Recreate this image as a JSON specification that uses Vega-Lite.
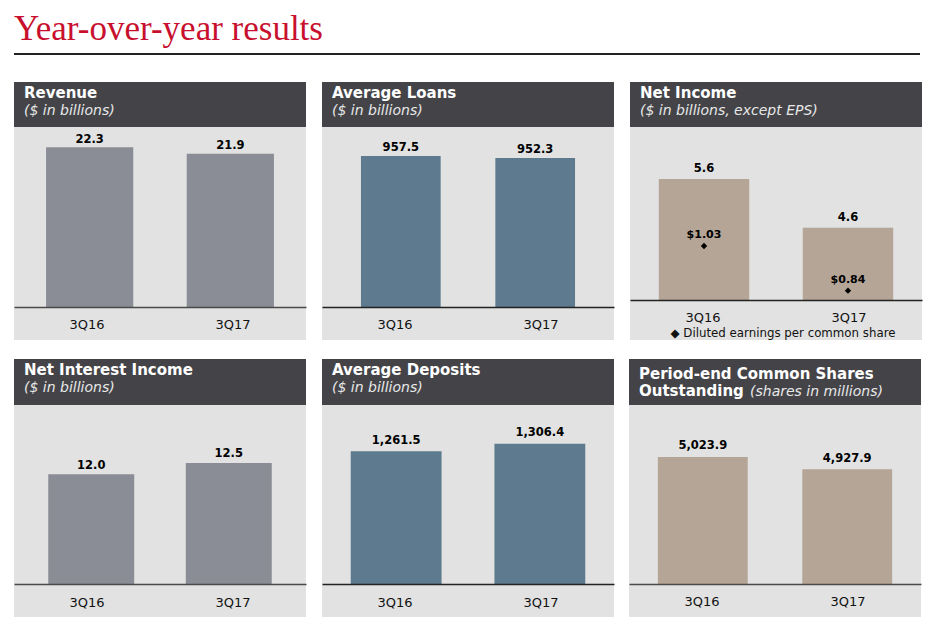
{
  "$schema": "https://vega.github.io/schema/vega-lite/v6.json",
  "padding": {"left": 13, "top": 11, "right": 5, "bottom": 5},
  "background": "white",
  "title": {"text": "Year-over-year results", "font": "Liberation Serif", "fontSize": 35, "fontWeight": "normal", "color": "#c8102e", "offset": 6, "dx": 0, "anchor": "start", "frame": "group"},
  "data": {"values": [
    {"m": "rev", "q": "3Q16", "v": 22.3},
    {"m": "rev", "q": "3Q17", "v": 21.9},
    {"m": "loans", "q": "3Q16", "v": 957.5},
    {"m": "loans", "q": "3Q17", "v": 952.3},
    {"m": "ni", "q": "3Q16", "v": 5.6},
    {"m": "ni", "q": "3Q17", "v": 4.6},
    {"m": "eps", "q": "3Q16", "v": 1.03},
    {"m": "eps", "q": "3Q17", "v": 0.84},
    {"m": "nii", "q": "3Q16", "v": 12.0},
    {"m": "nii", "q": "3Q17", "v": 12.5},
    {"m": "dep", "q": "3Q16", "v": 1261.5},
    {"m": "dep", "q": "3Q17", "v": 1306.4},
    {"m": "shares", "q": "3Q16", "v": 5023.9},
    {"m": "shares", "q": "3Q17", "v": 4927.9}
  ]},
  "spacing": 26,
  "vconcat": [
    {"width": 906, "height": 2, "view": {"fill": "#222222", "stroke": null}, "mark": {"type": "rule", "opacity": 0}, "encoding": {}},
    {"spacing": 18, "vconcat": [
      {"spacing": 15, "hconcat": [
        {"spacing": 0, "bounds": "flush", "vconcat": [
          {"width": 292, "height": 45, "view": {"fill": "#444448", "stroke": null}, "title": {"text": "Revenue", "subtitle": "($ in billions)"}, "mark": {"type": "rule", "opacity": 0}, "encoding": {}},
          {"width": 292, "height": 180, "view": {"fill": "#e1e2e1", "stroke": null},
           "transform": [{"filter": "datum.m === 'rev'"}],
           "encoding": {"x": {"field": "q", "type": "nominal", "axis": null, "scale": {"paddingInner": 0.38, "paddingOuter": 0.228}}},
           "layer": [
             {"mark": {"type": "bar", "color": "#8a8d95"}, "encoding": {"y": {"field": "v", "type": "quantitative", "axis": null, "scale": {"domain": [12.32, 23.57], "zero": false, "nice": false}}, "y2": {"datum": 12.32}}},
             {"mark": {"type": "text", "baseline": "middle", "dy": -7.5, "fontWeight": "bold", "fontSize": 11.5, "color": "#000000"}, "encoding": {"y": {"field": "v", "type": "quantitative"}, "text": {"field": "v", "type": "quantitative", "format": ",.1f"}}}
           ]},
          {"width": 292, "height": 33, "view": {"fill": "#e1e2e1", "stroke": null},
           "transform": [{"filter": "datum.m === 'rev'"}],
           "mark": {"type": "text", "fontSize": 13, "dy": 1, "color": "#111111"},
           "encoding": {"x": {"field": "q", "type": "nominal", "axis": {"orient": "top", "labels": false, "ticks": false, "grid": false, "domain": true, "domainColor": "#4a4a4a", "domainWidth": 1.5, "offset": 0, "title": null}, "scale": {"paddingInner": 0.38, "paddingOuter": 0.228}}, "text": {"field": "q"}}}
        ]},
        {"spacing": 0, "bounds": "flush", "vconcat": [
          {"width": 292, "height": 45, "view": {"fill": "#444448", "stroke": null}, "title": {"text": "Average Loans", "subtitle": "($ in billions)"}, "mark": {"type": "rule", "opacity": 0}, "encoding": {}},
          {"width": 292, "height": 180, "view": {"fill": "#e1e2e1", "stroke": null},
           "transform": [{"filter": "datum.m === 'loans'"}],
           "encoding": {"x": {"field": "q", "type": "nominal", "axis": null, "scale": {"paddingInner": 0.407, "paddingOuter": 0.29}}},
           "layer": [
             {"mark": {"type": "bar", "color": "#5d7a8e"}, "encoding": {"y": {"field": "v", "type": "quantitative", "axis": null, "scale": {"domain": [564.9, 1032.9], "zero": false, "nice": false}}, "y2": {"datum": 564.9}}},
             {"mark": {"type": "text", "baseline": "middle", "dy": -8, "fontWeight": "bold", "fontSize": 11.5, "color": "#000000"}, "encoding": {"y": {"field": "v", "type": "quantitative"}, "text": {"field": "v", "type": "quantitative", "format": ",.1f"}}}
           ]},
          {"width": 292, "height": 33, "view": {"fill": "#e1e2e1", "stroke": null},
           "transform": [{"filter": "datum.m === 'loans'"}],
           "mark": {"type": "text", "fontSize": 13, "dy": 1, "color": "#111111"},
           "encoding": {"x": {"field": "q", "type": "nominal", "axis": {"orient": "top", "labels": false, "ticks": false, "grid": false, "domain": true, "domainColor": "#222222", "domainWidth": 1.5, "offset": 0, "title": null}, "scale": {"paddingInner": 0.407, "paddingOuter": 0.29}}, "text": {"field": "q"}}}
        ]},
        {"spacing": 0, "bounds": "flush", "vconcat": [
          {"width": 292, "height": 45, "view": {"fill": "#444448", "stroke": null}, "title": {"text": "Net Income", "subtitle": "($ in billions, except EPS)"}, "mark": {"type": "rule", "opacity": 0}, "encoding": {}},
          {"width": 292, "height": 173, "view": {"fill": "#e1e2e1", "stroke": null},
           "encoding": {"x": {"field": "q", "type": "nominal", "axis": null, "scale": {"paddingInner": 0.372, "paddingOuter": 0.2}}},
           "layer": [
             {"transform": [{"filter": "datum.m === 'ni'"}], "mark": {"type": "bar", "color": "#b4a596"}, "encoding": {"y": {"field": "v", "type": "quantitative", "axis": null, "scale": {"domain": [3.115, 6.667], "zero": false, "nice": false}}, "y2": {"datum": 3.115}}},
             {"transform": [{"filter": "datum.m === 'ni'"}], "mark": {"type": "text", "baseline": "middle", "dy": -10, "fontWeight": "bold", "fontSize": 11.5, "color": "#000000"}, "encoding": {"y": {"field": "v", "type": "quantitative", "axis": null, "scale": {"domain": [3.115, 6.667], "zero": false, "nice": false}}, "text": {"field": "v", "type": "quantitative", "format": ",.1f"}}},
             {"transform": [{"filter": "datum.m === 'eps'"}], "mark": {"type": "point", "shape": "diamond", "filled": true, "color": "#000000", "size": 40, "opacity": 1}, "encoding": {"y": {"field": "v", "type": "quantitative", "axis": null, "scale": {"domain": [0.8005, 1.5357], "zero": false, "nice": false}}}},
             {"transform": [{"filter": "datum.m === 'eps'"}], "mark": {"type": "text", "baseline": "middle", "dy": -11, "fontWeight": "bold", "fontSize": 11, "color": "#000000"}, "encoding": {"y": {"field": "v", "type": "quantitative", "axis": null, "scale": {"domain": [0.8005, 1.5357], "zero": false, "nice": false}}, "text": {"field": "v", "type": "quantitative", "format": "$.2f"}}}
           ],
           "resolve": {"scale": {"y": "independent"}}},
          {"width": 292, "height": 40, "view": {"fill": "#e1e2e1", "stroke": null},
           "layer": [
             {"transform": [{"filter": "datum.m === 'ni'"}], "mark": {"type": "text", "fontSize": 13, "dy": -2, "color": "#111111"},
              "encoding": {"x": {"field": "q", "type": "nominal", "axis": {"orient": "top", "labels": false, "ticks": false, "grid": false, "domain": true, "domainColor": "#222222", "domainWidth": 1.5, "offset": 0, "title": null}, "scale": {"paddingInner": 0.372, "paddingOuter": 0.2}}, "text": {"field": "q"}}},
             {"data": {"values": [{"note": "◆ Diluted earnings per common share"}]}, "mark": {"type": "text", "fontSize": 11.8, "dx": 7, "dy": 13, "color": "#111111"}, "encoding": {"text": {"field": "note"}}}
           ]}
        ]}
      ]},
      {"spacing": 15, "hconcat": [
        {"spacing": 0, "bounds": "flush", "vconcat": [
          {"width": 292, "height": 46, "view": {"fill": "#444448", "stroke": null}, "title": {"text": "Net Interest Income", "subtitle": "($ in billions)"}, "mark": {"type": "rule", "opacity": 0}, "encoding": {}},
          {"width": 292, "height": 179, "view": {"fill": "#e1e2e1", "stroke": null},
           "transform": [{"filter": "datum.m === 'nii'"}],
           "encoding": {"x": {"field": "q", "type": "nominal", "axis": null, "scale": {"paddingInner": 0.375, "paddingOuter": 0.249}}},
           "layer": [
             {"mark": {"type": "bar", "color": "#8a8d95"}, "encoding": {"y": {"field": "v", "type": "quantitative", "axis": null, "scale": {"domain": [7.146, 15.066], "zero": false, "nice": false}}, "y2": {"datum": 7.146}}},
             {"mark": {"type": "text", "baseline": "middle", "dy": -8.5, "fontWeight": "bold", "fontSize": 11.5, "color": "#000000"}, "encoding": {"y": {"field": "v", "type": "quantitative"}, "text": {"field": "v", "type": "quantitative", "format": ",.1f"}}}
           ]},
          {"width": 292, "height": 33, "view": {"fill": "#e1e2e1", "stroke": null},
           "transform": [{"filter": "datum.m === 'nii'"}],
           "mark": {"type": "text", "fontSize": 13, "dy": 2, "color": "#111111"},
           "encoding": {"x": {"field": "q", "type": "nominal", "axis": {"orient": "top", "labels": false, "ticks": false, "grid": false, "domain": true, "domainColor": "#4a4a4a", "domainWidth": 1.5, "offset": 0, "title": null}, "scale": {"paddingInner": 0.375, "paddingOuter": 0.249}}, "text": {"field": "q"}}}
        ]},
        {"spacing": 0, "bounds": "flush", "vconcat": [
          {"width": 292, "height": 46, "view": {"fill": "#444448", "stroke": null}, "title": {"text": "Average Deposits", "subtitle": "($ in billions)"}, "mark": {"type": "rule", "opacity": 0}, "encoding": {}},
          {"width": 292, "height": 179, "view": {"fill": "#e1e2e1", "stroke": null},
           "transform": [{"filter": "datum.m === 'dep'"}],
           "encoding": {"x": {"field": "q", "type": "nominal", "axis": null, "scale": {"paddingInner": 0.368, "paddingOuter": 0.2}}},
           "layer": [
             {"mark": {"type": "bar", "color": "#5d7a8e"}, "encoding": {"y": {"field": "v", "type": "quantitative", "axis": null, "scale": {"domain": [477.7, 1535], "zero": false, "nice": false}}, "y2": {"datum": 477.7}}},
             {"mark": {"type": "text", "baseline": "middle", "dy": -10.5, "fontWeight": "bold", "fontSize": 11.5, "color": "#000000"}, "encoding": {"y": {"field": "v", "type": "quantitative"}, "text": {"field": "v", "type": "quantitative", "format": ",.1f"}}}
           ]},
          {"width": 292, "height": 33, "view": {"fill": "#e1e2e1", "stroke": null},
           "transform": [{"filter": "datum.m === 'dep'"}],
           "mark": {"type": "text", "fontSize": 13, "dy": 2, "color": "#111111"},
           "encoding": {"x": {"field": "q", "type": "nominal", "axis": {"orient": "top", "labels": false, "ticks": false, "grid": false, "domain": true, "domainColor": "#222222", "domainWidth": 1.5, "offset": 0, "title": null}, "scale": {"paddingInner": 0.368, "paddingOuter": 0.2}}, "text": {"field": "q"}}}
        ]},
        {"spacing": 0, "bounds": "flush", "vconcat": [
          {"width": 292, "height": 46, "view": {"fill": "#444448", "stroke": null}, "title": {"text": ["Period-end Common Shares", "Outstanding"], "lineHeight": 17, "offset": -40},
           "data": {"values": [{"sub": "(shares in millions)"}]},
           "mark": {"type": "text", "align": "left", "baseline": "alphabetic", "dx": -25, "dy": 14, "font": "DejaVu Sans", "fontSize": 14, "fontStyle": "italic", "color": "#e8e8e8"},
           "encoding": {"text": {"field": "sub"}}},
          {"width": 292, "height": 179, "view": {"fill": "#e1e2e1", "stroke": null},
           "transform": [{"filter": "datum.m === 'shares'"}],
           "encoding": {"x": {"field": "q", "type": "nominal", "axis": null, "scale": {"paddingInner": 0.378, "paddingOuter": 0.2}}},
           "layer": [
             {"mark": {"type": "bar", "color": "#b4a596"}, "encoding": {"y": {"field": "v", "type": "quantitative", "axis": null, "scale": {"domain": [4032.5, 5429.8], "zero": false, "nice": false}}, "y2": {"datum": 4032.5}}},
             {"mark": {"type": "text", "baseline": "middle", "dy": -10.5, "fontWeight": "bold", "fontSize": 11.5, "color": "#000000"}, "encoding": {"y": {"field": "v", "type": "quantitative"}, "text": {"field": "v", "type": "quantitative", "format": ",.1f"}}}
           ]},
          {"width": 292, "height": 33, "view": {"fill": "#e1e2e1", "stroke": null},
           "transform": [{"filter": "datum.m === 'shares'"}],
           "mark": {"type": "text", "fontSize": 13, "dy": 1, "color": "#111111"},
           "encoding": {"x": {"field": "q", "type": "nominal", "axis": {"orient": "top", "labels": false, "ticks": false, "grid": false, "domain": true, "domainColor": "#4a4a4a", "domainWidth": 1.5, "offset": 0, "title": null}, "scale": {"paddingInner": 0.378, "paddingOuter": 0.2}}, "text": {"field": "q"}}}
        ]}
      ]}
    ]}
  ],
  "config": {
    "font": "DejaVu Sans",
    "view": {"stroke": null},
    "title": {"anchor": "start", "frame": "group", "font": "DejaVu Sans", "fontSize": 15, "fontWeight": "bold", "color": "#ffffff", "subtitleFont": "DejaVu Sans", "subtitleFontSize": 14, "subtitleFontStyle": "italic", "subtitleColor": "#e8e8e8", "subtitlePadding": 0, "offset": -36, "dx": 10}
  }
}
